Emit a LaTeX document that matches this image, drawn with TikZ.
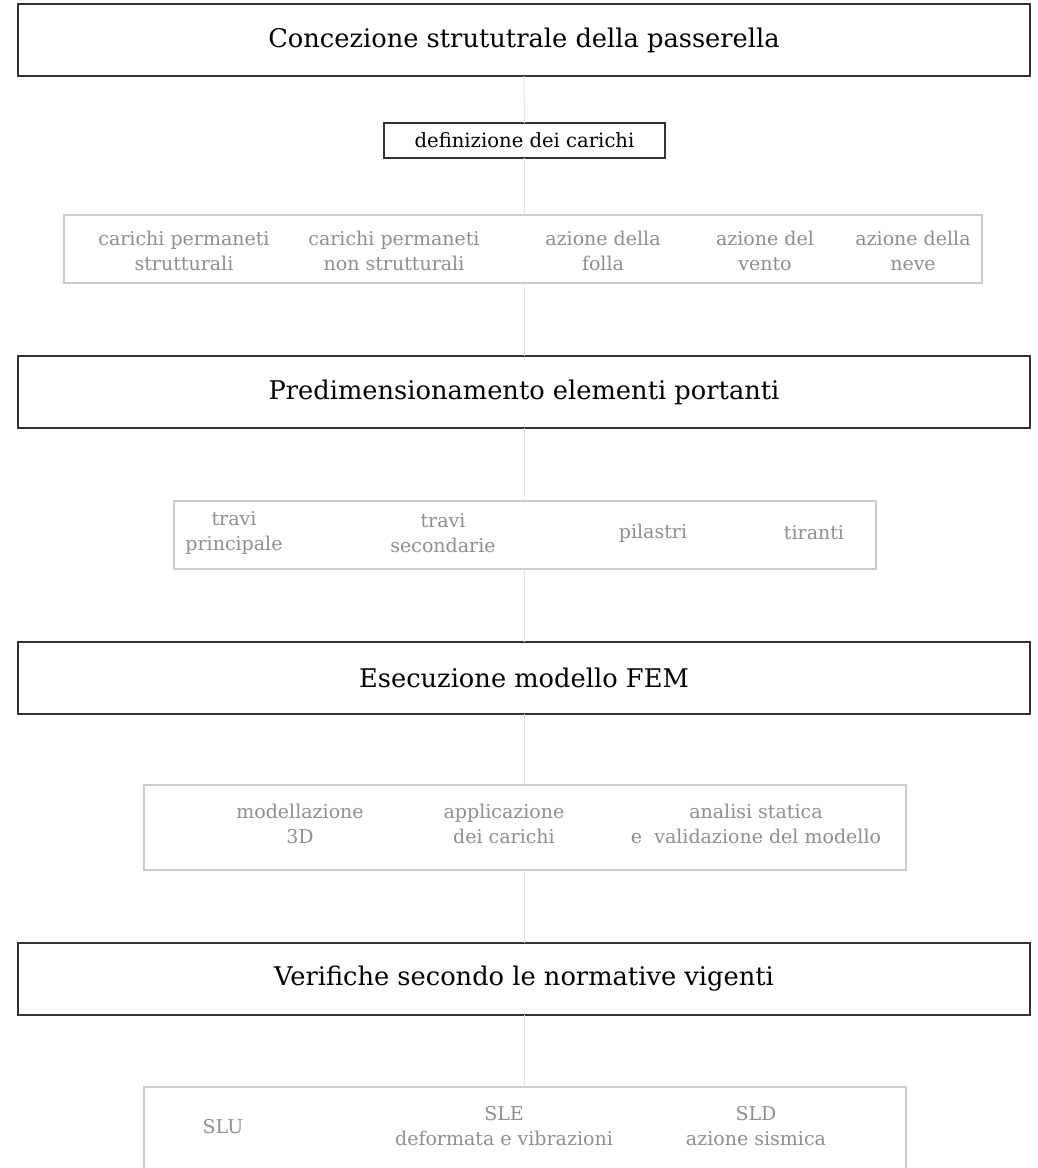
\documentclass[tikz,border=0pt]{standalone}
\usepackage{fontspec}
\setmainfont{DejaVu Serif}
\begin{document}
\begin{tikzpicture}[x=1pt,y=-1pt,
  stage/.style={draw=stageline,line width=1.5pt,fill=white,inner sep=0pt,outer sep=0pt,
    minimum width=1012pt,minimum height=72pt,font=\fontsize{25.7}{30}\selectfont,text=black},
  subhead/.style={draw=stageline,line width=1.3pt,fill=white,inner sep=0pt,outer sep=0pt,
    font=\fontsize{19.6}{22}\selectfont,text=black},
  group/.style={draw=groupline,line width=1.5pt,fill=white,inner sep=0pt,outer sep=0pt},
  item/.style={align=center,text=itemtext,inner sep=0pt,
    font=\fontsize{19}{25}\selectfont},
  spine/.style={draw=spinecol,line width=1pt}]
\definecolor{stageline}{HTML}{333333}
\definecolor{groupline}{HTML}{CCCCCC}
\definecolor{itemtext}{HTML}{8F8F8F}
\definecolor{spinecol}{HTML}{E4E4E4}
\useasboundingbox (0,0) rectangle (1038,1168);
\clip (0,0) rectangle (1038,1168);

% stage 1
\node[stage] (s1) at (524,40) {Concezione strututrale della passerella};
\node[subhead,minimum width=281pt,minimum height=35pt] (d1) at (524.5,140.5) {definizione dei carichi};
\node[group,minimum width=918pt,minimum height=68pt] (g1) at (523,249) {};
\node[item] (g1a) at (184,250.5) {carichi permaneti\\strutturali};
\node[item] (g1b) at (394,250.5) {carichi permaneti\\non strutturali};
\node[item] (g1c) at (603,250.5) {azione della\\folla};
\node[item] (g1d) at (765,250.5) {azione del\\vento};
\node[item] (g1e) at (913,250.5) {azione della\\neve};

% stage 2
\node[stage] (s2) at (524,392) {Predimensionamento elementi portanti};
\node[group,minimum width=702pt,minimum height=68pt] (g2) at (525,535) {};
\node[item] (g2a) at (234,533) {travi\\principale};
\node[item] (g2b) at (443,533) {travi\\secondarie};
\node[item] (g2c) at (653,533) {pilastri};
\node[item] (g2d) at (814,533) {tiranti};

% stage 3
\node[stage] (s3) at (524,678) {Esecuzione modello FEM};
\node[group,minimum width=762pt,minimum height=85pt] (g3) at (525,827.5) {};
\node[item] (g3a) at (300,823.5) {modellazione\\3D};
\node[item] (g3b) at (504,823.5) {applicazione\\dei carichi};
\node[item] (g3c) at (756,823.5) {analisi statica\\e\ \ validazione del modello};

% stage 4
\node[stage] (s4) at (524,979) {Verifiche secondo le normative vigenti};
\node[group,minimum width=762pt,minimum height=96pt] (g4) at (525,1135) {};
\node[item] (g4a) at (223,1127) {SLU};
\node[item] (g4b) at (504,1126.5) {SLE\\deformata e vibrazioni};
\node[item] (g4c) at (756,1126.5) {SLD\\azione sismica};

% central spine between the blocks
\draw[spine] (s1.south) -- (d1.north);
\draw[spine] (d1.south) -- (d1.south |- g1.north);
\draw[spine] (g1.south -| s1.south) -- (s2.north);
\draw[spine] (s2.south) -- (s2.south |- g2.north);
\draw[spine] (g2.south -| s2.south) -- (s3.north);
\draw[spine] (s3.south) -- (s3.south |- g3.north);
\draw[spine] (g3.south -| s3.south) -- (s4.north);
\draw[spine] (s4.south) -- (s4.south |- g4.north);
\end{tikzpicture}
\end{document}
